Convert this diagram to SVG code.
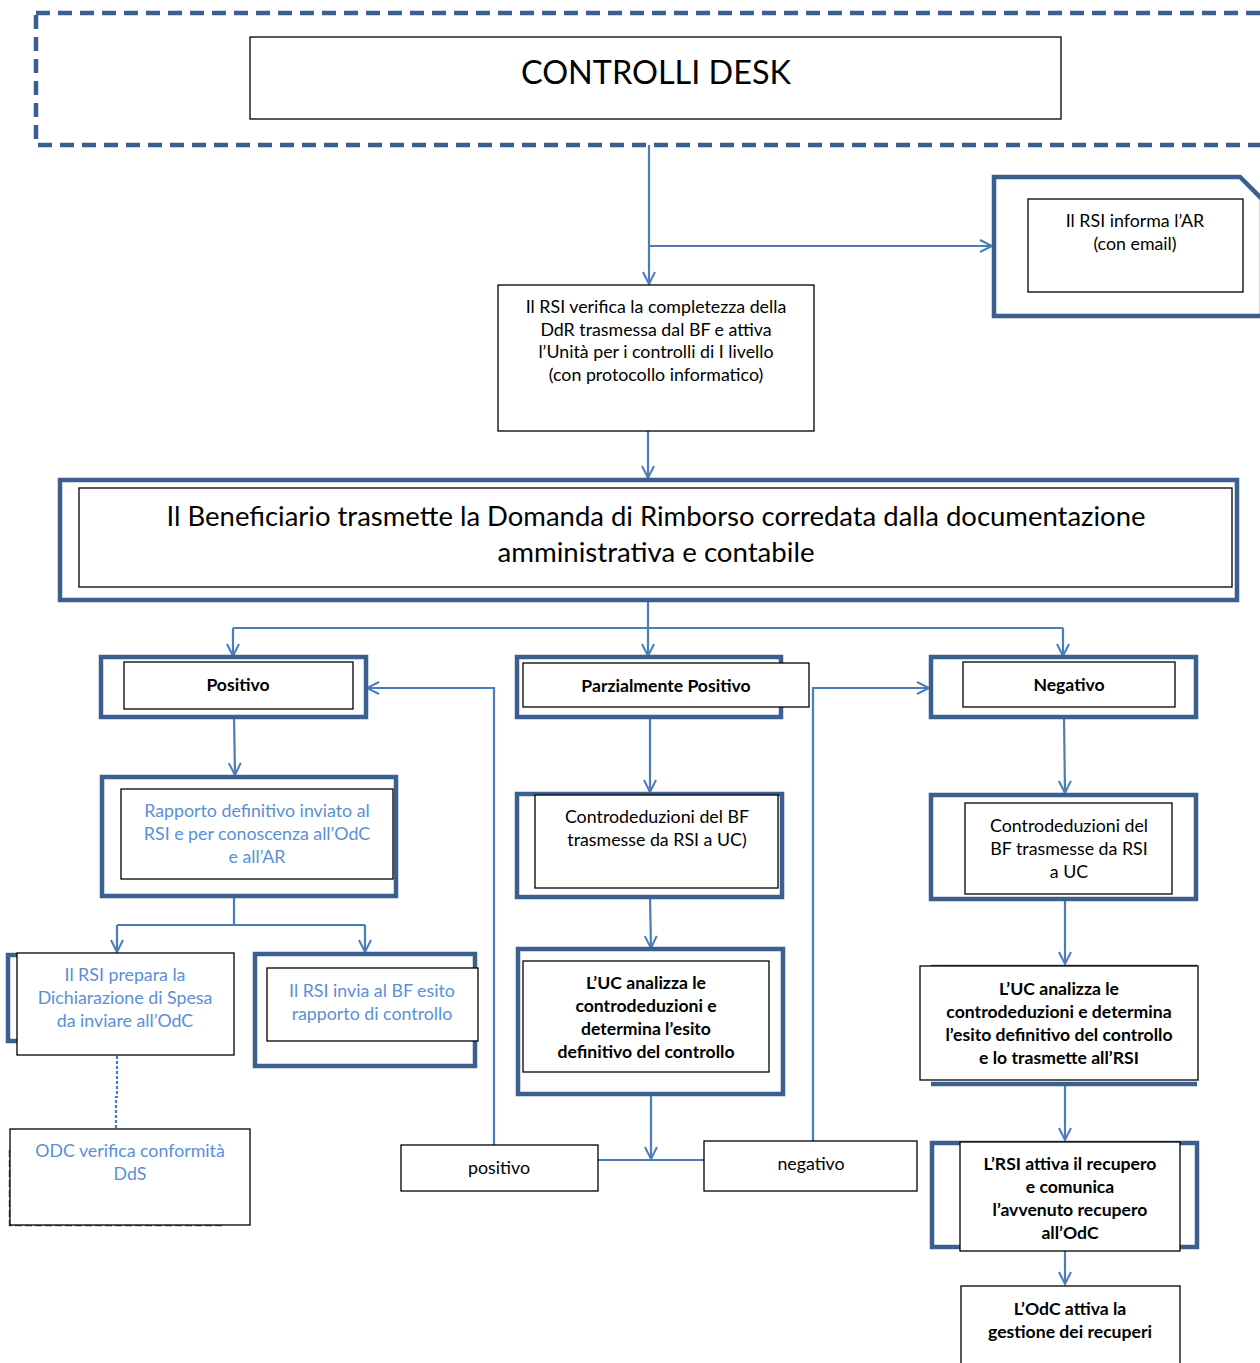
<svg xmlns="http://www.w3.org/2000/svg" width="1260" height="1363" viewBox="0 0 1260 1363">
<defs>
<marker id="ah" markerUnits="userSpaceOnUse" markerWidth="18" markerHeight="18" refX="13" refY="7" orient="auto" viewBox="0 0 18 14">
<path d="M1,1 L13,7 L1,13" fill="none" stroke="#4a7ebb" stroke-width="2"/>
</marker>
</defs>
<style>
text{font-family:Lato,"Open Sans","Liberation Sans",sans-serif;font-size:17.8px;fill:#000;text-anchor:middle}
.b{font-weight:bold;font-size:17.6px}
.lb{fill:#5a8fd6}
.big{font-size:32.5px}
.mid{font-size:27px}
.thin{fill:#fff;stroke:#000;stroke-width:1.3}
.frame{fill:#fff;stroke:#3b5f8e;stroke-width:4.5}
.con{fill:none;stroke:#4a7ebb;stroke-width:2.2}
</style>
<rect width="1260" height="1363" fill="#fff"/>

<g id="connectors">
<path class="con" d="M649,145 V284" marker-end="url(#ah)"/>
<path class="con" d="M649,246 H992" marker-end="url(#ah)"/>
<path class="con" d="M648,431 V478" marker-end="url(#ah)"/>
<path class="con" d="M648,600 V628"/>
<path class="con" d="M233,628 H1063"/>
<path class="con" d="M233,628 V656" marker-end="url(#ah)"/>
<path class="con" d="M648,628 V656" marker-end="url(#ah)"/>
<path class="con" d="M1063,628 V656" marker-end="url(#ah)"/>
<path class="con" d="M234,717 L235,775" marker-end="url(#ah)"/>
<path class="con" d="M234,897 V925 M117,925 H365"/>
<path class="con" d="M117,925 V952" marker-end="url(#ah)"/>
<path class="con" d="M365,925 V952" marker-end="url(#ah)"/>
<path class="con" d="M117,1056 V1097 H116 V1128" stroke-dasharray="3,2" stroke-width="2"/>
<path class="con" d="M494,1145 V688 H367" marker-end="url(#ah)"/>
<path class="con" d="M650,717 V792" marker-end="url(#ah)"/>
<path class="con" d="M650,897 L651,948" marker-end="url(#ah)"/>
<path class="con" d="M651,1094 V1159" marker-end="url(#ah)"/>
<path class="con" d="M598,1160 H704"/>
<path class="con" d="M813,1141 V688 H929" marker-end="url(#ah)"/>
<path class="con" d="M1064,717 L1065,793" marker-end="url(#ah)"/>
<path class="con" d="M1065,899 V964" marker-end="url(#ah)"/>
<path class="con" d="M1065,1086 V1140" marker-end="url(#ah)"/>
<path class="con" d="M1065,1251 V1284" stroke-width="1.3" marker-end="url(#ah)"/>
</g>

<g id="controlli-desk">
<rect x="36" y="13" width="1240" height="132" fill="none" stroke="#3b5f8e" stroke-width="4.5" stroke-dasharray="14,8"/>
<rect class="thin" x="250" y="37" width="811" height="82"/>
<text class="big" x="656" y="84" textLength="270" lengthAdjust="spacingAndGlyphs">CONTROLLI DESK</text>
</g>

<g id="rsi-informa">
<path class="frame" d="M994,177 H1240 L1262,199 V316 H994 Z"/>
<rect class="thin" x="1028" y="199" width="215" height="93"/>
<text x="1135" y="227">Il RSI informa l’AR</text>
<text x="1135" y="250">(con email)</text>
</g>

<g id="rsi-verifica">
<rect class="thin" x="498" y="285" width="316" height="146"/>
<text x="656" y="313">Il RSI verifica la completezza della</text>
<text x="656" y="336">DdR trasmessa dal BF e attiva</text>
<text x="656" y="358">l’Unità per i controlli di I livello</text>
<text x="656" y="381">(con protocollo informatico)</text>
</g>

<g id="beneficiario">
<rect class="frame" x="60" y="480" width="1177" height="120"/>
<rect class="thin" x="79" y="488" width="1153" height="99"/>
<text class="mid" x="656" y="526" textLength="979" lengthAdjust="spacingAndGlyphs">Il Beneficiario trasmette la Domanda di Rimborso corredata dalla documentazione</text>
<text class="mid" x="656" y="562" textLength="317" lengthAdjust="spacingAndGlyphs">amministrativa e contabile</text>
</g>

<g id="positivo">
<rect class="frame" x="101" y="657" width="265" height="60"/>
<rect class="thin" x="124" y="662" width="229" height="47"/>
<text class="b" x="238" y="691">Positivo</text>
</g>

<g id="parzialmente">
<rect class="frame" x="517" y="657" width="264" height="60"/>
<rect class="thin" x="523" y="663" width="286" height="44"/>
<text class="b" x="666" y="692">Parzialmente Positivo</text>
</g>

<g id="negativo">
<rect class="frame" x="931" y="657" width="265" height="60"/>
<rect class="thin" x="963" y="662" width="212" height="45"/>
<text class="b" x="1069" y="691">Negativo</text>
</g>

<g id="rapporto">
<rect class="frame" x="102" y="777" width="294" height="119"/>
<rect class="thin" x="121" y="789" width="272" height="90"/>
<text class="lb" x="257" y="817">Rapporto definitivo inviato al</text>
<text class="lb" x="257" y="840">RSI e per conoscenza all’OdC</text>
<text class="lb" x="257" y="863">e all’AR</text>
</g>

<g id="rsi-prepara">
<path d="M17,955 H8 V1041 H17" fill="none" stroke="#3b5f8e" stroke-width="4.5"/>
<rect class="thin" x="17" y="953" width="217" height="102"/>
<text class="lb" x="125" y="981">Il RSI prepara la</text>
<text class="lb" x="125" y="1004">Dichiarazione di Spesa</text>
<text class="lb" x="125" y="1027">da inviare all’OdC</text>
</g>

<g id="odc-verifica">
<path d="M10,1150 V1225 H225" fill="none" stroke="#3b5f8e" stroke-width="2.5" stroke-dasharray="7,3"/>
<rect class="thin" x="10" y="1129" width="240" height="96"/>
<text class="lb" x="130" y="1157">ODC verifica conformità</text>
<text class="lb" x="130" y="1180">DdS</text>
</g>

<g id="rsi-invia">
<rect class="frame" x="255" y="954" width="220" height="112"/>
<rect class="thin" x="267" y="968" width="211" height="73"/>
<text class="lb" x="372" y="997">Il RSI invia al BF esito</text>
<text class="lb" x="372" y="1020">rapporto di controllo</text>
</g>

<g id="controdeduzioni-parz">
<rect class="frame" x="517" y="794" width="265" height="103"/>
<rect class="thin" x="535" y="795" width="243" height="93"/>
<text x="657" y="823">Controdeduzioni del BF</text>
<text x="657" y="846">trasmesse da RSI a UC)</text>
</g>

<g id="uc-analizza-parz">
<rect class="frame" x="518" y="949" width="265" height="145"/>
<rect class="thin" x="523" y="961" width="246" height="111"/>
<text class="b" x="646" y="989">L’UC analizza le</text>
<text class="b" x="646" y="1012">controdeduzioni e</text>
<text class="b" x="646" y="1035">determina l’esito</text>
<text class="b" x="646" y="1058">definitivo del controllo</text>
</g>

<g id="esito-positivo">
<rect class="thin" x="401" y="1145" width="197" height="46"/>
<text x="499" y="1174">positivo</text>
</g>

<g id="esito-negativo">
<rect class="thin" x="704" y="1141" width="213" height="50"/>
<text x="811" y="1170">negativo</text>
</g>

<g id="controdeduzioni-neg">
<rect class="frame" x="931" y="795" width="265" height="104"/>
<rect class="thin" x="965" y="803" width="207" height="91"/>
<text x="1069" y="832">Controdeduzioni del</text>
<text x="1069" y="855">BF trasmesse da RSI</text>
<text x="1069" y="878">a UC</text>
</g>

<g id="uc-analizza-neg">
<path d="M931,967 H1197 M931,1084 H1197" fill="none" stroke="#3b5f8e" stroke-width="4.5"/>
<rect class="thin" x="920" y="966" width="278" height="114"/>
<text class="b" x="1059" y="995">L’UC analizza le</text>
<text class="b" x="1059" y="1018">controdeduzioni e determina</text>
<text class="b" x="1059" y="1041">l’esito definitivo del controllo</text>
<text class="b" x="1059" y="1064">e lo trasmette all’RSI</text>
</g>

<g id="rsi-attiva">
<rect class="frame" x="932" y="1143" width="265" height="104"/>
<rect class="thin" x="960" y="1142" width="220" height="109"/>
<text class="b" x="1070" y="1170">L’RSI attiva il recupero</text>
<text class="b" x="1070" y="1193">e comunica</text>
<text class="b" x="1070" y="1216">l’avvenuto recupero</text>
<text class="b" x="1070" y="1239">all’OdC</text>
</g>

<g id="odc-attiva">
<rect class="thin" x="961" y="1286" width="219" height="90"/>
<text class="b" x="1070" y="1315">L’OdC attiva la</text>
<text class="b" x="1070" y="1338">gestione dei recuperi</text>
</g>
</svg>
